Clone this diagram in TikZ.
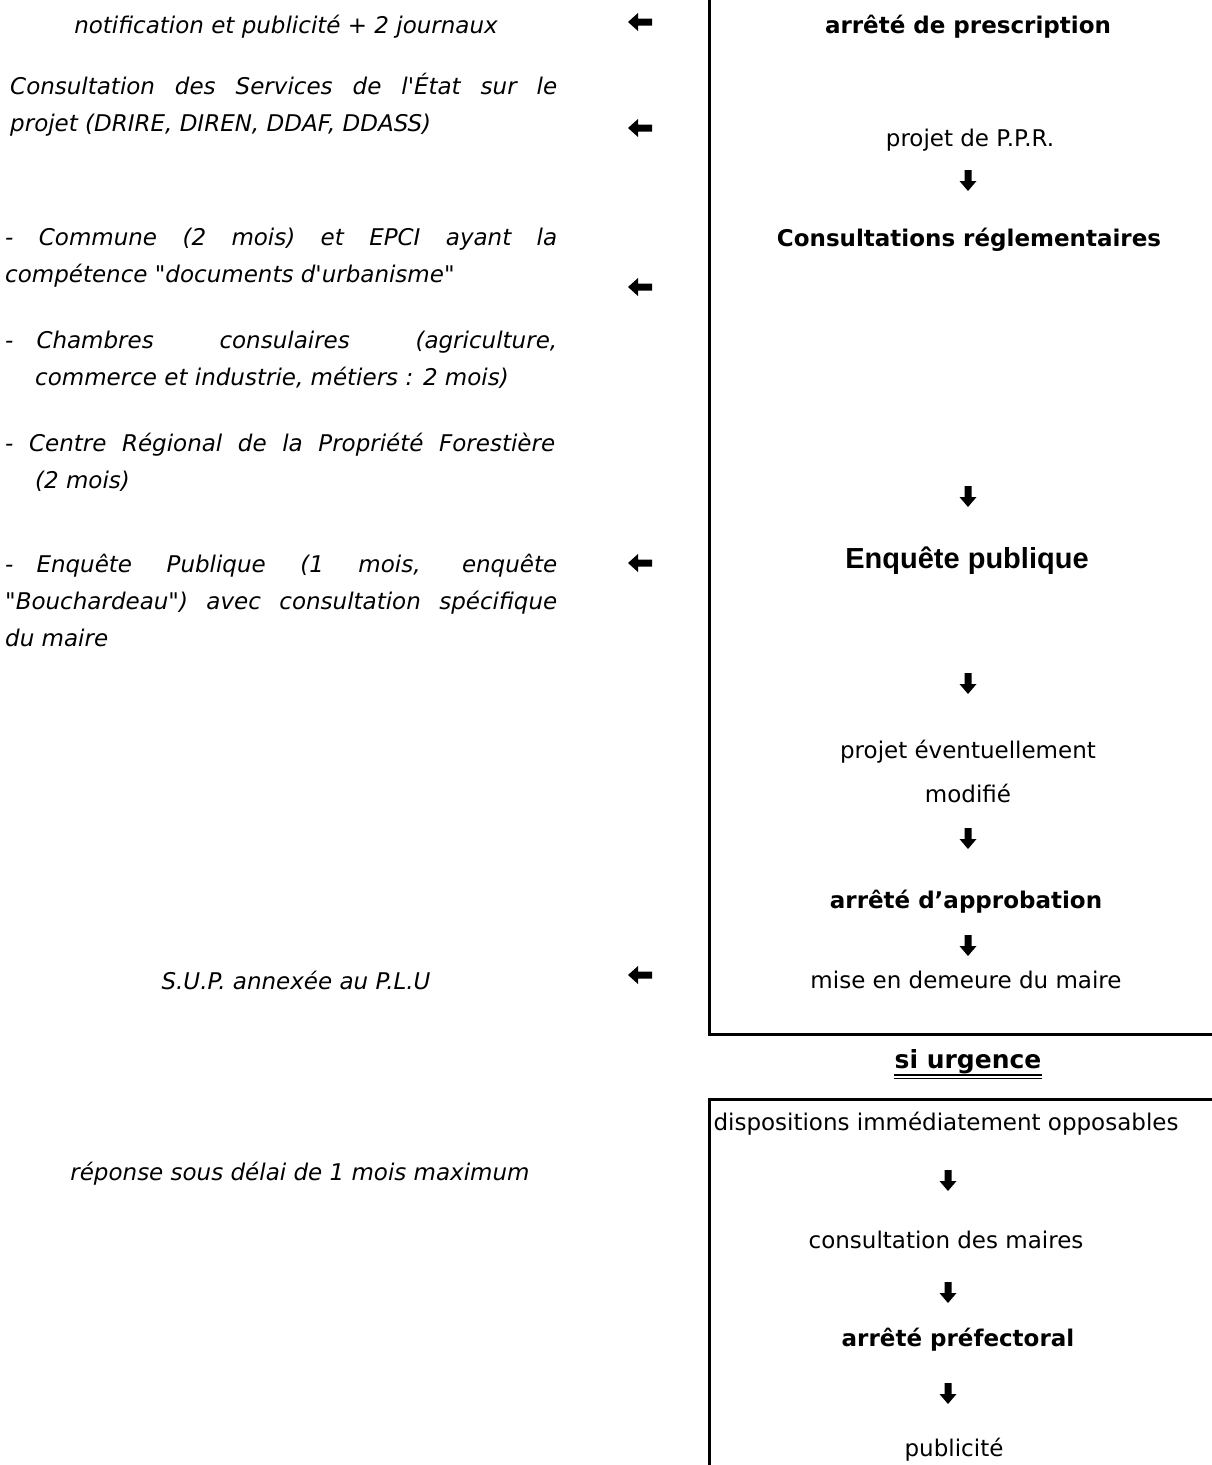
\documentclass[tikz,border=0pt]{standalone}
\usepackage{fontspec}
\setmainfont{DejaVu Sans}
\newfontfamily\arialfont{Liberation Sans}
\usetikzlibrary{positioning}

\tikzset{
    gauche/.style={font=\fontsize{23}{37}\selectfont\itshape, inner sep=0pt, align=left, anchor=west},
    droite/.style={font=\fontsize{23}{44}\selectfont, inner sep=0pt, align=center},
    etape/.style={font=\fontsize{23}{28}\selectfont\bfseries, inner sep=0pt},
    cadre/.style={line width=3pt},
    pics/flecheg/.style={code={
        \fill (-12,0) -- (-2,-9) -- (-2,-3.5) -- (12,-3.5) -- (12,3.5) -- (-2,3.5) -- (-2,9) -- cycle;
    }},
    pics/flecheb/.style={code={
        \fill (0,11) -- (-8.5,1) -- (-3.5,1) -- (-3.5,-10) -- (3.5,-10) -- (3.5,1) -- (8.5,1) -- cycle;
    }}
}

\begin{document}
\begin{tikzpicture}[x=1pt, y=-1pt]
    \useasboundingbox (0,0) rectangle (1211,1465);
    % colonne de gauche
    \node[gauche, anchor=center] (notif) at (286,27) {notification et publicité + 2 journaux};
    \node[gauche] (services) at (10,104.5) {\makebox[547pt][s]{Consultation des Services de l\textquotesingle État sur le}\\projet (DRIRE, DIREN, DDAF, DDASS)};
    \node[gauche] (commune) at (5,257.5) {\makebox[552pt][s]{- Commune (2 mois) et EPCI ayant la}\\compétence \textquotedbl documents d\textquotesingle urbanisme\textquotedbl};
    \node[gauche] (chambres) at (5,360) {\makebox[552pt][s]{-\quad Chambres consulaires (agriculture,}\\\hspace*{30pt}commerce et industrie, métiers : 2 mois)};
    \node[gauche] (centre) at (5,462.5) {\makebox[550pt][s]{- Centre Régional de la Propriété Forestière}\\\hspace*{30pt}(2 mois)};
    \node[gauche] (enquete) at (5,600) {\makebox[552pt][s]{-\quad Enquête Publique (1 mois, enquête}\\\makebox[552pt][s]{\textquotedbl Bouchardeau\textquotedbl) avec consultation spécifique}\\du maire};
    \node[gauche, anchor=center] (sup) at (296,980) {S.U.P. annexée au P.L.U};
    \node[gauche, anchor=center] (reponse) at (300,1174) {réponse sous délai de 1 mois maximum};
    \foreach \y in {22,128,287,563,975} {
        \pic at (640,\y) {flecheg};
    }
    % procedure normale
    \draw[cadre] (709,-10) -- (709,1034) -- (1220,1034);
    \node[etape] (prescription) at (968,27) {arrêté de prescription};
    \node[droite] (projet) at (970,140) {projet de P.P.R.};
    \node[etape] (consultations) at (969,240) {Consultations réglementaires};
    \node[font=\arialfont\fontsize{29}{34}\selectfont\bfseries, inner sep=0pt] (enquetepub) at (967,561) {Enquête publique};
    \node[droite] (modifie) at (968,771) {projet éventuellement\\modifié};
    \node[etape] (approbation) at (966,902) {arrêté d’approbation};
    \node[droite] (demeure) at (966,980) {mise en demeure du maire};
    \foreach \y in {180,496,683,838,945} {
        \pic at (968,\y) {flecheb};
    }
    % si urgence
    \node[font=\fontsize{25}{30}\selectfont\bfseries, inner sep=0pt] (urgence) at (968,1062) {si urgence};
    \draw[line width=2.2pt] ([yshift=-6pt]urgence.base west) -- ([yshift=-6pt]urgence.base east);
    \draw[line width=1pt] ([yshift=-10pt]urgence.base west) -- ([yshift=-10pt]urgence.base east);
    \draw[cadre] (1220,1099) -- (709,1099) -- (709,1475);
    \node[droite] (dispositions) at (946,1124) {dispositions immédiatement opposables};
    \node[droite] (maires) at (946,1240) {consultation des maires};
    \node[etape] (prefectoral) at (958,1340) {arrêté préfectoral};
    \node[droite] (publicite) at (954,1450) {publicité};
    \foreach \y in {1180,1292,1393} {
        \pic at (948,\y) {flecheb};
    }
\end{tikzpicture}
\end{document}
